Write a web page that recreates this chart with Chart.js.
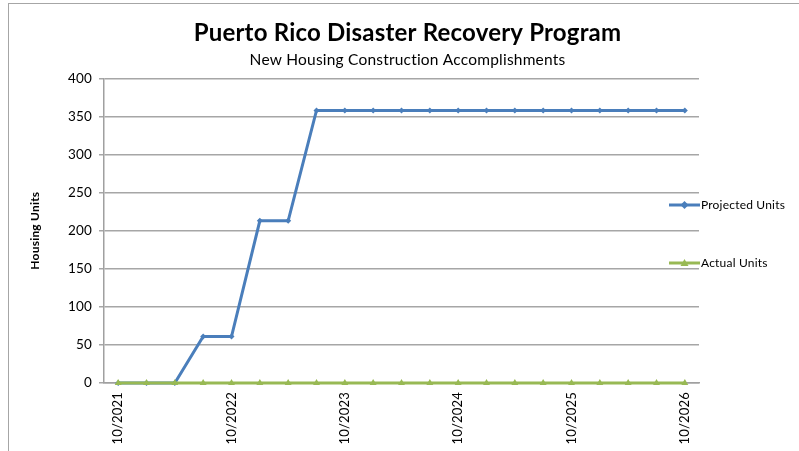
<!DOCTYPE html>
<html>
<head>
<meta charset="utf-8">
<script src="https://cdn.jsdelivr.net/npm/chart.js@4/dist/chart.umd.min.js"></script>
<style>
  html, body { margin: 0; padding: 0; background: #fff; }
  #wrap { position: relative; width: 799px; height: 451px; }
  #frame { position: absolute; left: 8px; top: 3px; right: -2px; bottom: -2px; border-left: 1.5px solid #a6a6a6; border-top: 1.5px solid #a6a6a6; pointer-events: none; }
  canvas { position: absolute; left: 0; top: 0; }
</style>
</head>
<body>
<div id="wrap">
  <canvas id="c" width="799" height="451"></canvas>
  <div id="frame"></div>
</div>
<script>
const categories = ["10/2021","1/2022","4/2022","7/2022","10/2022","1/2023","4/2023","7/2023","10/2023","1/2024","4/2024","7/2024","10/2024","1/2025","4/2025","7/2025","10/2025","1/2026","4/2026","7/2026","10/2026"];
const projectedUnits = [0,0,0,61,61,213,213,358,358,358,358,358,358,358,358,358,358,358,358,358,358];
const actualUnits = [0,0,0,0,0,0,0,0,0,0,0,0,0,0,0,0,0,0,0,0,0];
const yTicks = [0,50,100,150,200,250,300,350,400];

const FONT = "Lato, 'Liberation Sans', sans-serif";

const noLigatures = {
  id: 'noLigatures',
  beforeDraw(chart) { try { chart.ctx.letterSpacing = '0.2px'; } catch (e) {} }
};

const sideLegend = {
  id: 'sideLegend',
  afterDraw(chart) {
    const ctx = chart.ctx;
    const rows = [205, 263];
    chart.data.datasets.forEach((ds, i) => {
      const y = rows[i];
      ctx.save();
      ctx.strokeStyle = ds.borderColor;
      ctx.lineWidth = 3;
      ctx.beginPath();
      ctx.moveTo(669, y);
      ctx.lineTo(700, y);
      ctx.stroke();
      ctx.fillStyle = ds.borderColor;
      ctx.beginPath();
      if (ds.pointStyle === 'triangle') {
        ctx.moveTo(684.5, y - 4);
        ctx.lineTo(688.5, y + 3);
        ctx.lineTo(680.5, y + 3);
      } else {
        ctx.moveTo(684.5, y - 4);
        ctx.lineTo(688.5, y);
        ctx.lineTo(684.5, y + 4);
        ctx.lineTo(680.5, y);
      }
      ctx.closePath();
      ctx.fill();
      ctx.fillStyle = '#000';
      ctx.font = "12px " + FONT;
      ctx.textBaseline = 'middle';
      ctx.textAlign = 'left';
      ctx.fillText(ds.label, 701, y);
      ctx.restore();
    });
  }
};

new Chart(document.getElementById('c'), {
  type: 'line',
  data: {
    labels: categories,
    datasets: [
      {
        label: 'Projected Units',
        data: projectedUnits,
        borderColor: '#4a7ebb',
        backgroundColor: '#4a7ebb',
        borderWidth: 3,
        pointStyle: 'rectRot',
        pointRadius: 3,
        pointBorderWidth: 0,
        tension: 0,
        clip: false,
        order: 1
      },
      {
        label: 'Actual Units',
        data: actualUnits,
        borderColor: '#98b954',
        backgroundColor: '#98b954',
        borderWidth: 3,
        pointStyle: 'triangle',
        pointRadius: 4,
        pointBorderWidth: 0,
        tension: 0,
        clip: false,
        order: 0
      }
    ]
  },
  options: {
    responsive: false,
    animation: false,
    layout: { padding: { left: 16, right: 0, top: 0, bottom: 0 } },
    plugins: {
      legend: { display: false },
      tooltip: { enabled: false },
      title: {
        display: true,
        text: 'Puerto Rico Disaster Recovery Program',
        color: '#000',
        font: { family: FONT, size: 24, weight: 'bold', lineHeight: 1.2 },
        padding: { top: 19, bottom: 0 }
      },
      subtitle: {
        display: true,
        text: 'New Housing Construction Accomplishments',
        color: '#000',
        font: { family: FONT, size: 15.5, lineHeight: 1.2 },
        padding: { top: 3, bottom: 9 }
      }
    },
    scales: {
      x: {
        type: 'category',
        offset: true,
        grid: { display: false, drawTicks: false },
        border: { display: true, color: '#a0a0a0', width: 1.5 },
        ticks: {
          autoSkip: false,
          minRotation: 90,
          maxRotation: 90,
          padding: 9,
          color: '#000',
          font: { family: FONT, size: 13 },
          callback: function(v, i) { return i % 4 === 0 ? this.getLabelForValue(v) : ''; }
        },
        afterFit(s) { s.height = 68; }
      },
      y: {
        min: 0,
        max: 400,
        afterBuildTicks(s) { s.ticks = yTicks.map(v => ({ value: v })); },
        grid: { color: '#a6a6a6', lineWidth: 1.5, tickLength: 5, drawTicks: true },
        border: { display: true, color: '#a0a0a0', width: 1.5 },
        ticks: {
          padding: 7,
          color: '#000',
          font: { family: FONT, size: 13.5 }
        },
        title: {
          display: true,
          text: 'Housing Units',
          color: '#000',
          font: { family: FONT, size: 12, weight: 'bold' },
          padding: { top: 12, bottom: 0 }
        },
        afterFit(s) { s.width = 88; }
      },
      yRight: {
        position: 'right',
        display: true,
        grid: { display: false, drawTicks: false },
        border: { display: false },
        ticks: { display: false },
        afterFit(s) { s.width = 100; }
      }
    }
  },
  plugins: [noLigatures, sideLegend]
});
</script>
</body>
</html>
